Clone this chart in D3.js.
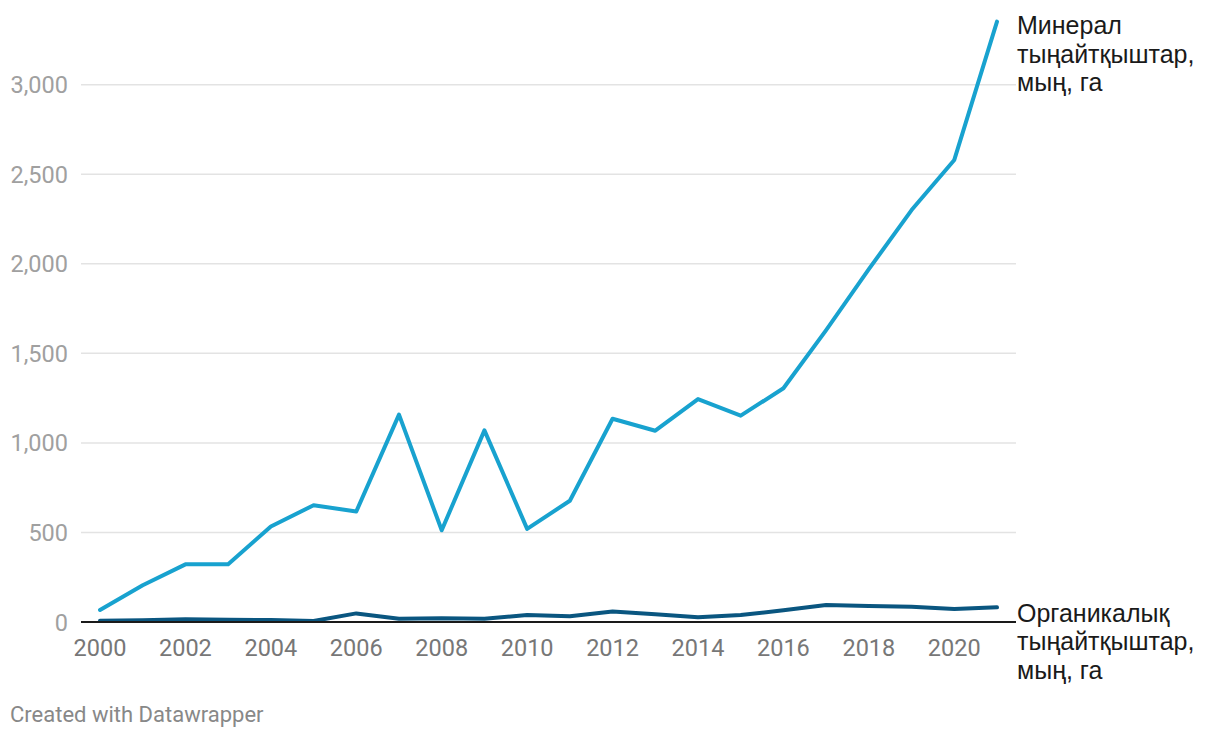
<!DOCTYPE html>
<html>
<head>
<meta charset="utf-8">
<script src="https://cdn.jsdelivr.net/npm/d3@7"></script>
<style>
  body { margin: 0; background: #fff; }
  #chart { width: 1220px; height: 738px; }
</style>
</head>
<body>
<div id="chart"></div>
<script>
var width = 1220;
var height = 738;

var years = [2000, 2001, 2002, 2003, 2004, 2005, 2006, 2007, 2008, 2009, 2010,
             2011, 2012, 2013, 2014, 2015, 2016, 2017, 2018, 2019, 2020, 2021];
var mineral = [67, 205, 322, 322, 533, 652, 617, 1158, 512, 1070, 520,
               677, 1135, 1068, 1245, 1152, 1305, 1630, 1970, 2300, 2580, 3352];
var organic = [7, 10, 15, 12, 11, 6, 48, 18, 21, 18, 39,
               32, 58, 43, 26, 39, 65, 95, 89, 85, 73, 82];
var yTicks = [0, 500, 1000, 1500, 2000, 2500, 3000];
var xTicks = [2000, 2002, 2004, 2006, 2008, 2010, 2012, 2014, 2016, 2018, 2020];
var mineralLabel = ["Минерал", "тыңайтқыштар,", "мың, га"];
var organicLabel = ["Органикалық", "тыңайтқыштар,", "мың, га"];

var svg = d3.select("#chart").append("svg")
  .attr("width", width)
  .attr("height", height);

var x = d3.scaleLinear().domain([2000, 2021]).range([100, 997]);
var y = d3.scaleLinear().domain([0, 3000]).range([622, 84.7]);

// gridlines
svg.append("g").selectAll("line")
  .data(yTicks.filter(function(d){ return d > 0; }))
  .enter().append("line")
  .attr("x1", 81).attr("x2", 1016)
  .attr("y1", function(d){ return y(d); })
  .attr("y2", function(d){ return y(d); })
  .attr("stroke", "#e3e3e3")
  .attr("stroke-width", 1.5);

// y labels
svg.append("g").selectAll("text")
  .data(yTicks)
  .enter().append("text")
  .attr("x", 68)
  .attr("y", function(d){ return y(d) + 8.5; })
  .attr("text-anchor", "end")
  .attr("font-family", "Roboto, sans-serif")
  .attr("font-size", "23.5px")
  .attr("fill", "#a0a0a0")
  .text(function(d){ return d3.format(",")(d); });

// x labels
svg.append("g").selectAll("text")
  .data(xTicks)
  .enter().append("text")
  .attr("x", function(d){ return x(d); })
  .attr("y", 656)
  .attr("text-anchor", "middle")
  .attr("font-family", "Roboto, sans-serif")
  .attr("font-size", "23.5px")
  .attr("fill", "#777")
  .text(function(d){ return d; });

var line = function(vals){
  return d3.line()
    .x(function(d, i){ return x(years[i]); })
    .y(function(d){ return y(d); })(vals);
};

svg.append("path")
  .attr("d", line(organic))
  .attr("fill", "none")
  .attr("stroke", "#0a5680")
  .attr("stroke-width", 4)
  .attr("stroke-linejoin", "round")
  .attr("stroke-linecap", "round");

// baseline
svg.append("line")
  .attr("x1", 81).attr("x2", 1016)
  .attr("y1", y(0)).attr("y2", y(0))
  .attr("stroke", "#1a1a1a")
  .attr("stroke-width", 2);

svg.append("path")
  .attr("d", line(mineral))
  .attr("fill", "none")
  .attr("stroke", "#18a2cf")
  .attr("stroke-width", 4)
  .attr("stroke-linejoin", "round")
  .attr("stroke-linecap", "round");

var addLabel = function(lines, top){
  var t = svg.append("text")
    .attr("font-family", "'Liberation Sans', Arial, sans-serif")
    .attr("font-size", "25px")
    .attr("fill", "#1a1a1a");
  lines.forEach(function(s, i){
    t.append("tspan").attr("x", 1017).attr("y", top + i * 28.3).text(s);
  });
};
addLabel(mineralLabel, 34.3);
addLabel(organicLabel, 622);

svg.append("text")
  .attr("x", 10)
  .attr("y", 722)
  .attr("font-family", "Roboto, sans-serif")
  .attr("font-size", "22px")
  .attr("fill", "#888")
  .text("Created with Datawrapper");
</script>
</body>
</html>
